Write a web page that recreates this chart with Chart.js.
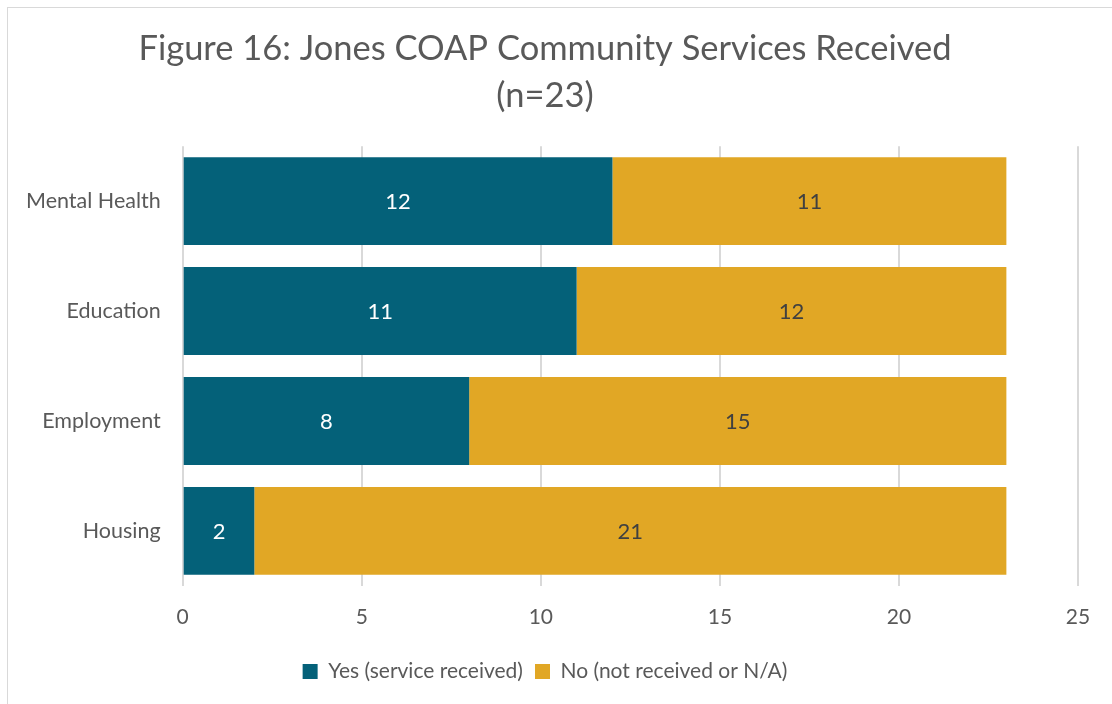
<!DOCTYPE html>
<html>
<head>
<meta charset="utf-8">
<script src="https://cdn.jsdelivr.net/npm/chart.js@4.4.0/dist/chart.umd.min.js"></script>
<style>
  body { margin: 0; background: #fff; overflow: hidden; }
  #frame { position: absolute; left: 7px; top: 7px; width: 1200px; height: 800px; border: 1px solid #d9d9d9; }
  #wrap { position: absolute; left: 0; top: 0; width: 1112px; height: 704px; }
</style>
</head>
<body>
<div id="frame"></div>
<div id="wrap"><canvas id="chart"></canvas></div>
<script>
// categories and counts
const categories = ['Mental Health', 'Education', 'Employment', 'Housing'];
const yesValues = [12, 11, 8, 2];
const noValues = [11, 12, 15, 21];
const xTicks = [0, 5, 10, 15, 20, 25];

const FONT = 'Lato, "Open Sans", sans-serif';

// simple value labels in the middle of each bar segment
const barLabels = {
  id: 'barLabels',
  afterDatasetsDraw(chart) {
    const ctx = chart.ctx;
    ctx.save();
    ctx.font = '22px ' + FONT;
    ctx.textAlign = 'center';
    ctx.textBaseline = 'middle';
    chart.data.datasets.forEach((ds, i) => {
      chart.getDatasetMeta(i).data.forEach((bar, j) => {
        const mid = (bar.x + bar.base) / 2;
        ctx.fillStyle = i === 0 ? '#ffffff' : '#404040';
        ctx.fillText(String(ds.data[j]), mid, bar.y + 1);
      });
    });
    ctx.restore();
  }
};

new Chart(document.getElementById('chart'), {
  type: 'bar',
  data: {
    labels: categories,
    datasets: [
      { label: 'Yes (service received)', data: yesValues, backgroundColor: '#046179' },
      { label: 'No (not received or N/A)', data: noValues, backgroundColor: '#E1A725' }
    ]
  },
  options: {
    indexAxis: 'y',
    responsive: true,
    maintainAspectRatio: false,
    animation: false,
    categoryPercentage: 0.8,
    barPercentage: 1.0,
    layout: { padding: { left: 12, right: 34, top: 4, bottom: 12 } },
    scales: {
      x: {
        stacked: true,
        min: 0,
        max: 25,
        afterBuildTicks: axis => { axis.ticks = xTicks.map(v => ({ value: v })); },
        grid: { color: '#d9d9d9', lineWidth: 2, drawTicks: false },
        border: { display: false },
        ticks: { color: '#595959', font: { family: FONT, size: 21 }, padding: 19 }
      },
      y: {
        stacked: true,
        grid: { display: false },
        border: { display: false },
        ticks: { color: '#595959', font: { family: FONT, size: 21.5 }, padding: 14 }
      }
    },
    plugins: {
      title: {
        display: true,
        text: ['Figure 16: Jones COAP Community Services Received', '(n=23)'],
        color: '#595959',
        font: { family: FONT, size: 34.5, weight: 'normal', lineHeight: 1.35 },
        padding: { top: 22, bottom: 27 }
      },
      legend: {
        position: 'bottom',
        labels: {
          color: '#595959',
          font: { family: FONT, size: 21 },
          boxWidth: 15,
          boxHeight: 15,
          padding: 12
        }
      },
      tooltip: { enabled: false }
    }
  },
  plugins: [barLabels]
});
</script>
</body>
</html>
